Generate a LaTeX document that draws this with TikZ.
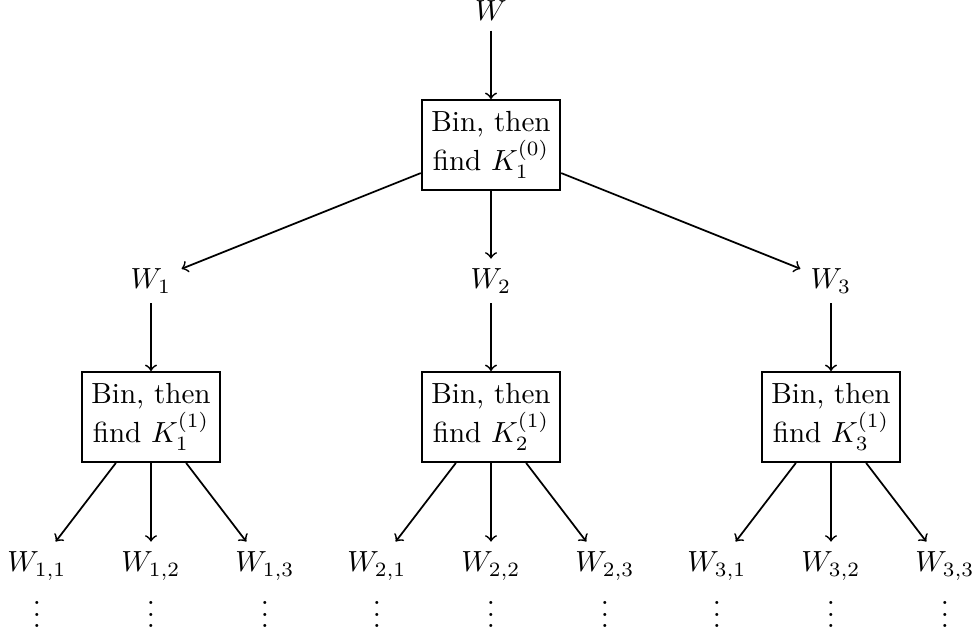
\documentclass[tikz,border=0pt]{standalone}
\usepackage{amsmath}
\begin{document}
\begin{tikzpicture}[x=0.3436pt,y=-0.3436pt,
  binbox/.style={draw, semithick, align=center, inner ysep=4pt},
  wnode/.style={},
  conn/.style={->, semithick}]
\useasboundingbox (0,0) rectangle (976,634);
\node[wnode] (w) at (491,10.5) {$W$};
\node[binbox] (b0) at (491,145) {Bin, then\\find $K_1^{(0)}$};
\node[wnode] (w1) at (151,281) {$W_1$};
\node[wnode] (w2) at (491,281) {$W_2$};
\node[wnode] (w3) at (831,281) {$W_3$};
\node[binbox] (b1) at (151,417) {Bin, then\\find $K_1^{(1)}$};
\node[binbox] (b2) at (491,417) {Bin, then\\find $K_2^{(1)}$};
\node[binbox] (b3) at (831,417) {Bin, then\\find $K_3^{(1)}$};
\foreach \g/\c in {1/151,2/491,3/831}{
  \foreach \k/\dx in {1/-114,2/0,3/114}{
    \node[wnode] (w\g\k) at (\c+\dx,566) {$W_{\g,\k}$};
    \node (d\g\k) at (\c+\dx,606) {$\vdots$};
  }
}
\draw[conn] (w) -- (b0);
\draw[conn] (b0) -- (w1);
\draw[conn] (b0) -- (w2);
\draw[conn] (b0) -- (w3);
\draw[conn] (w1) -- (b1);
\draw[conn] (w2) -- (b2);
\draw[conn] (w3) -- (b3);
\foreach \g in {1,2,3}{
  \foreach \k in {1,2,3}{
    \draw[conn] (b\g) -- (w\g\k);
  }
}
\end{tikzpicture}
\end{document}
